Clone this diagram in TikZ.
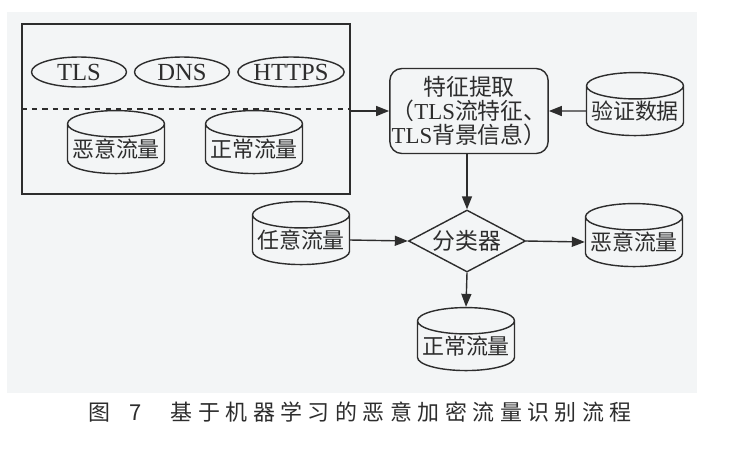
\documentclass[tikz,border=0pt]{standalone}
\usepackage{fontspec}
\setmainfont{Liberation Serif}
\newfontfamily\cjk{Noto Sans CJK SC}
\newfontfamily\capcjk[LetterSpace=25]{Noto Sans CJK SC}
\usetikzlibrary{shapes.geometric, arrows.meta}
\definecolor{scan}{RGB}{243,245,246}
\definecolor{ink}{RGB}{45,45,45}

\begin{document}
\begin{tikzpicture}[x=0.02cm, y=-0.02cm]
\tikzstyle{db}=[cylinder, shape border rotate=90, aspect=0.3, draw=ink, thick,
    minimum width=1.94cm, minimum height=1.26cm, inner sep=0pt,
    font=\cjk\fontsize{12.5}{14}\selectfont, text=ink]
\tikzstyle{proto}=[ellipse, draw=ink, thick, minimum width=1.9cm,
    minimum height=0.6cm, inner sep=0pt, font=\fontsize{14}{16}\selectfont, text=ink]
\tikzstyle{flow}=[thick, draw=ink, -{Triangle[length=2.6mm, width=2mm]}]

\useasboundingbox (0,0) rectangle (730,451);
\fill[scan] (7,12) rectangle (697,393);

% training data
\node[rectangle, draw=ink, thick, minimum width=6.56cm,
    minimum height=3.4cm] (train) at (186,109) {};
\draw[ink, thick, dashed] (train.west) -- (train.east);

\node[proto] (tls) at (79,72) {TLS};
\node[proto] (dns) at (182,72) {DNS};
\node[proto] (https) at (291,72) {HTTPS};

\node[db] (bad1) at (116,149) {恶意流量};
\node[db] (good1) at (254,149) {正常流量};

% feature extraction
\node[rectangle, rounded corners=0.24cm, draw=ink, thick, minimum width=3cm,
    minimum height=1.7cm, inner sep=1pt, align=center, text=ink,
    font=\cjk\fontsize{13}{13.5}\selectfont] (feat) at (469,111)
    {特征提取\\（{\rmfamily TLS}流特征、\\{\rmfamily TLS}背景信息）};
\node[db] (check) at (635,111) {验证数据};

% classifier
\node[diamond, aspect=1.9, draw=ink, thick, minimum width=2.34cm,
    minimum height=1.24cm, inner sep=0pt, text=ink,
    font=\cjk\fontsize{13}{14}\selectfont] (cls) at (467,241) {分类器};
\node[db] (any) at (301,240) {任意流量};
\node[db] (bad2) at (634,242) {恶意流量};
\node[db] (good2) at (466,346) {正常流量};

\draw[flow] (train.east |- feat.west) -- (feat.west);
\draw[flow] (check.west) -- (feat.east);
\draw[flow] (feat.south -| cls.north) -- (cls.north);
\draw[flow] (any.east) -- (cls.west);
\draw[flow] (cls.east) -- (bad2.west);
\draw[flow] (cls.south) -- (good2.north);

\node[anchor=west, text=ink, font=\capcjk\fontsize{12.5}{14}\selectfont] (cap) at (82,412)
    {图\hspace{0.9em}7\hspace{1.3em}基于机器学习的恶意加密流量识别流程};
\end{tikzpicture}
\end{document}
